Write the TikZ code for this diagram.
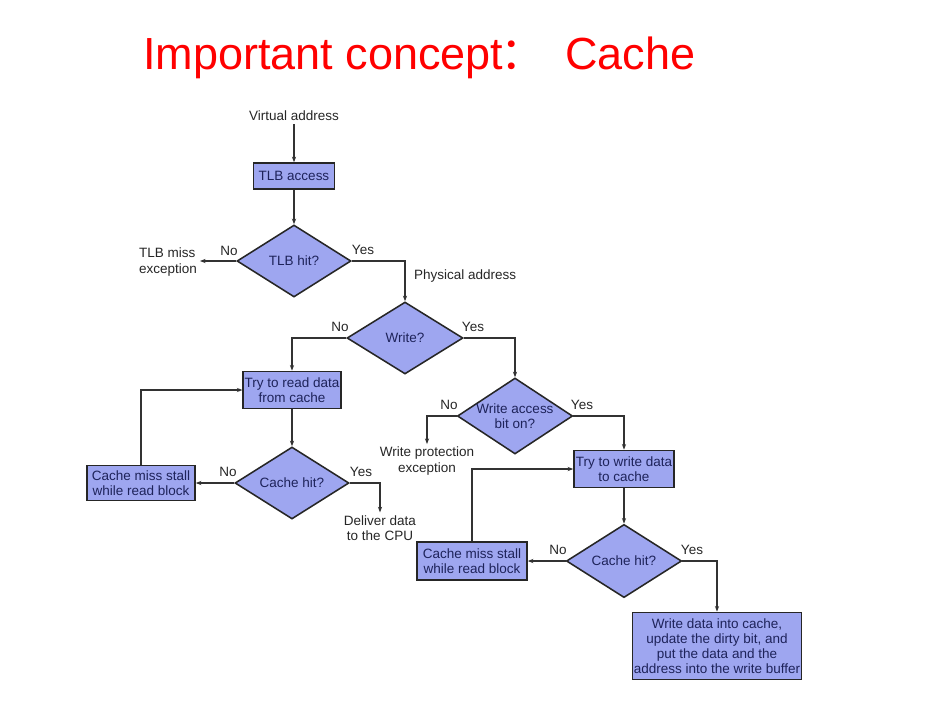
\documentclass[tikz,border=0pt]{standalone}
\usepackage{fontspec}
\setmainfont{Liberation Sans}
\newfontfamily\cjk{Noto Sans CJK SC}
\usetikzlibrary{shapes.geometric,arrows.meta}
\definecolor{boxfill}{RGB}{158,166,240}
\definecolor{boxtext}{RGB}{30,35,90}
\definecolor{linegray}{RGB}{50,50,50}
\begin{document}
\begin{tikzpicture}[x=0.025cm,y=-0.025cm,
      font=\fontsize{9.6}{10.8}\selectfont,
      >={Stealth[length=4pt,width=3pt]},
      flow/.style={draw=linegray,line width=0.75pt},
      blk/.style={draw=black!85,line width=1.1pt,fill=boxfill,text=boxtext,align=center,inner sep=1pt},
      dec/.style={diamond,draw=black!85,line width=1.1pt,fill=boxfill,text=boxtext,align=center,inner sep=-2pt,shape aspect=1.5},
      lbl/.style={text=black!85,align=center,inner sep=2pt}]
   \useasboundingbox (0,0) rectangle (940,706);
   \node[red,anchor=base west,inner sep=0pt,font=\fontsize{32}{38}\selectfont] (title) at (143,69) {Important concept\kern-2pt{\cjk ：}\hspace{14pt}Cache};

   \node[lbl] (va) at (294,116) {Virtual address};
   \node[blk,minimum width=2.03cm,minimum height=0.65cm] (tlb) at (294,176) {TLB access};
   \node[dec,minimum width=2.85cm,minimum height=1.8cm] (tlbhit) at (294,261) {TLB hit?};
   \node[lbl,align=left,anchor=west] (tlbmiss) at (136,262) {TLB miss\\exception};
   \node[lbl,anchor=west] (phys) at (411,276) {Physical address};
   \node[dec,minimum width=2.9cm,minimum height=1.8cm] (write) at (405,338) {Write?};
   \node[blk,minimum width=2.43cm,minimum height=0.93cm] (rd) at (292,390) {Try to read data\\from cache};
   \node[dec,minimum width=2.85cm,minimum height=1.8cm] (chit1) at (292,483) {Cache hit?};
   \node[blk,minimum width=2.7cm,minimum height=0.88cm] (stall1) at (141,483) {Cache miss stall\\while read block};
   \node[lbl] (cpu) at (380,528) {Deliver data\\to the CPU};
   \node[dec,minimum width=2.88cm,minimum height=1.9cm] (wab) at (515,416) {Write access\\bit on?};
   \node[lbl] (wpe) at (427,461) {Write protection\\exception};
   \node[blk,minimum width=2.5cm,minimum height=0.93cm] (wr) at (624,469) {Try to write data\\to cache};
   \node[dec,minimum width=2.88cm,minimum height=1.83cm] (chit2) at (624,561) {Cache hit?};
   \node[blk,minimum width=2.75cm,minimum height=0.95cm] (stall2) at (472,561) {Cache miss stall\\while read block};
   \node[blk,minimum width=4.23cm,minimum height=1.68cm] (upd) at (717,646) {Write data into cache,\\update the dirty bit, and\\put the data and the\\address into the write buffer};

   \node[lbl] (no1) at (229,251) {No};
   \node[lbl] (yes1) at (363,250) {Yes};
   \node[lbl] (no2) at (340,327) {No};
   \node[lbl] (yes2) at (473,327) {Yes};
   \node[lbl] (no3) at (228,472) {No};
   \node[lbl] (yes3) at (361,472) {Yes};
   \node[lbl] (no4) at (449,405) {No};
   \node[lbl] (yes4) at (582,405) {Yes};
   \node[lbl] (no5) at (558,550) {No};
   \node[lbl] (yes5) at (692,550) {Yes};

   \draw[flow,->] (va) -- (tlb);
   \draw[flow,->] (tlb) -- (tlbhit);
   \draw[flow,->] (tlbhit.west) -- (tlbhit.west -| tlbmiss.east);
   \draw[flow,->] (tlbhit.east) -| (write.north);
   \draw[flow,->] (write.west) -| (rd.north);
   \draw[flow,->] (write.east) -| (wab.north);
   \draw[flow,->] (rd) -- (chit1);
   \draw[flow,->] (chit1) -- (stall1);
   \draw[flow,->] (stall1.north) |- (rd.west);
   \draw[flow,->] (chit1.east) -| (cpu.north);
   \draw[flow,->] (wab.west) -| (wpe.north);
   \draw[flow,->] (wab.east) -| (wr.north);
   \draw[flow,->] (wr) -- (chit2);
   \draw[flow,->] (chit2) -- (stall2);
   \draw[flow,->] (stall2.north) |- (wr.west);
   \draw[flow,->] (chit2.east) -| (upd.north);
\end{tikzpicture}
\end{document}
